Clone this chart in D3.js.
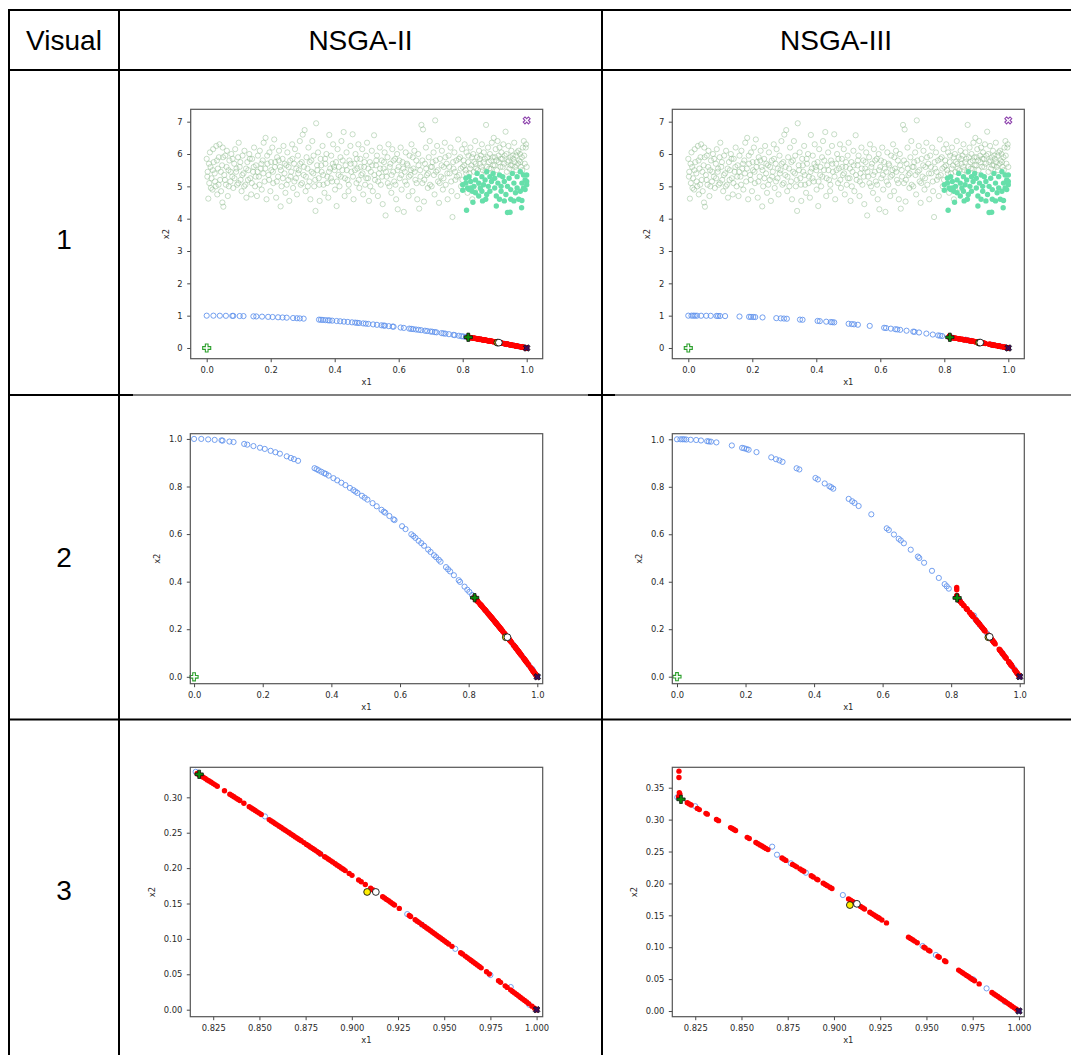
<!DOCTYPE html>
<html><head><meta charset="utf-8">
<script src="https://cdn.jsdelivr.net/npm/d3@7"></script>
<style>body{margin:0;background:#fff}</style>
</head><body>
<svg id="c" width="1071" height="1055"></svg>
<script>
const headers = ["Visual", "NSGA-II", "NSGA-III"];
const rowLabels = ["1", "2", "3"];

// population cloud (shared)
const cloud = [[0.000,5.85],[0.003,5.45],[0.005,4.62],[0.008,5.1],[0.010,6.05],[0.012,5.6],[0.015,5.25],[0.018,4.9],[0.020,6.15],[0.022,5.75],[0.025,5.4],[0.028,5.0],[0.030,6.25],[0.033,4.75],[0.035,5.55],[0.038,5.9],[0.040,6.3],[0.042,5.2],[0.045,4.85],[0.048,5.65],[0.050,6.2],[0.052,4.37],[0.049,4.5],
[0.055,5.35],[0.058,5.95],[0.060,5.05],[0.063,6.1],[0.066,4.7],[0.068,5.5],[0.071,5.8],[0.074,5.15],[0.077,6.0],[0.080,5.3],[0.083,4.95],[0.086,5.7],[0.089,6.15],[0.092,5.45],[0.095,5.05],[0.098,5.9],[0.100,6.35],
[0.103,5.6],[0.106,5.2],[0.109,4.85],[0.112,5.95],[0.115,5.4],[0.118,6.1],[0.121,5.05],[0.124,4.65],[0.127,5.75],[0.130,5.5],[0.133,6.0],[0.136,5.25],[0.139,4.75],[0.142,5.85],[0.145,5.45],[0.148,6.2],
[0.151,5.0],[0.154,5.65],[0.157,4.7],[0.160,5.95],[0.163,5.3],[0.166,6.1],[0.169,5.55],[0.172,4.9],[0.175,5.8],[0.178,6.35],[0.181,5.15],[0.184,6.5],[0.187,4.6],[0.190,5.7],[0.193,5.35],[0.196,6.05],[0.199,4.85],
[0.202,5.5],[0.205,6.2],[0.208,5.1],[0.211,6.45],[0.214,5.75],[0.217,4.65],[0.220,5.9],[0.223,5.3],[0.226,6.1],[0.229,5.6],[0.231,4.38],[0.234,5.0],[0.237,5.85],[0.240,6.25],[0.243,5.4],[0.246,4.8],[0.249,5.65],
[0.252,6.05],[0.255,5.2],[0.258,4.55],[0.261,5.8],[0.264,5.45],[0.267,6.3],[0.270,4.95],[0.273,5.7],[0.276,6.15],[0.279,5.25],[0.282,4.75],[0.285,5.95],[0.288,5.5],[0.291,6.4],[0.294,5.05],[0.297,5.75],[0.300,6.6],
[0.303,5.35],[0.306,6.74],[0.309,4.85],[0.312,5.9],[0.315,5.55],[0.318,6.2],[0.321,5.15],[0.324,4.6],[0.327,5.8],[0.330,6.4],[0.333,5.4],[0.336,5.0],[0.340,4.24],[0.342,6.95],[0.345,5.65],[0.348,6.05],[0.350,5.25],
[0.353,4.55],[0.356,5.85],[0.359,5.45],[0.362,6.25],[0.365,5.05],[0.368,4.8],[0.371,5.7],[0.374,6.0],[0.377,5.3],[0.380,4.65],[0.383,6.59],[0.386,5.55],[0.389,5.95],[0.392,5.15],[0.395,6.3],[0.398,5.6],
[0.401,4.9],[0.404,5.75],[0.406,4.39],[0.409,6.15],[0.412,5.35],[0.415,5.0],[0.418,5.9],[0.421,6.4],[0.424,5.5],[0.428,6.68],[0.431,4.7],[0.434,5.65],[0.437,6.05],[0.440,5.2],[0.443,4.85],[0.446,5.8],[0.449,6.25],
[0.452,5.45],[0.456,6.61],[0.459,4.6],[0.462,5.7],[0.465,6.0],[0.468,5.1],[0.471,5.55],[0.474,6.3],[0.477,4.95],[0.480,5.85],[0.483,5.35],[0.486,6.15],[0.489,4.75],[0.492,5.6],[0.495,5.05],[0.498,5.95],
[0.501,6.35],[0.504,5.25],[0.507,4.55],[0.510,5.75],[0.513,5.45],[0.516,6.1],[0.519,4.85],[0.523,6.58],[0.526,5.2],[0.529,5.65],[0.532,5.95],[0.535,4.7],[0.538,5.4],[0.541,6.2],[0.544,5.05],[0.547,5.8],[0.550,4.45],
[0.553,5.55],[0.556,6.05],[0.559,4.10],[0.562,5.3],[0.565,5.9],[0.568,6.3],[0.571,5.0],[0.574,5.7],[0.577,4.8],[0.580,6.15],[0.583,5.45],[0.586,5.15],[0.589,5.85],[0.592,4.6],[0.595,6.0],[0.597,4.29],[0.600,5.6],
[0.603,5.25],[0.606,6.2],[0.609,4.9],[0.612,5.75],[0.616,4.21],[0.619,5.45],[0.622,6.05],[0.625,5.05],[0.628,5.65],[0.631,4.7],[0.634,5.95],[0.637,5.35],[0.640,6.3],[0.643,4.85],[0.646,5.55],[0.649,6.1],
[0.652,5.2],[0.655,5.8],[0.658,4.6],[0.661,6.0],[0.664,4.31],[0.667,5.5],[0.671,6.9],[0.674,5.1],[0.676,6.76],[0.679,4.53],[0.682,5.7],[0.685,6.2],[0.688,5.35],[0.691,4.95],[0.694,5.9],[0.697,6.4],[0.700,5.6],
[0.703,5.0],[0.706,5.75],[0.709,6.05],[0.712,4.75],[0.714,7.04],[0.717,5.45],[0.720,6.25],[0.723,5.15],[0.726,4.49],[0.729,5.85],[0.732,5.3],[0.735,6.1],[0.738,4.9],[0.741,5.6],[0.744,6.35],[0.747,5.05],[0.750,5.7],
[0.753,4.6],[0.756,5.95],[0.759,5.4],[0.762,6.2],[0.765,4.85],[0.768,4.05],[0.771,5.55],[0.774,6.05],[0.777,5.2],[0.780,5.8],[0.783,4.7],[0.786,6.45],[0.789,5.35],[0.792,5.9],[0.795,5.0],[0.798,6.15],[0.800,5.6],
[0.803,5.8],[0.806,6.3],[0.809,5.5],[0.812,6.05],[0.815,4.8],[0.818,5.95],[0.821,5.4],[0.824,6.2],[0.827,5.65],[0.830,4.6],[0.833,6.0],[0.836,5.75],[0.839,6.4],[0.842,5.55],[0.845,5.9],[0.848,4.95],
[0.851,6.1],[0.854,5.7],[0.857,5.95],[0.860,6.3],[0.863,5.5],[0.866,6.05],[0.869,5.85],[0.873,6.9],[0.876,5.6],[0.879,6.2],[0.882,5.75],[0.885,6.0],[0.888,5.55],[0.891,6.35],[0.894,5.9],[0.897,6.5],[0.900,5.65],
[0.903,6.15],[0.906,5.8],[0.909,6.4],[0.912,5.95],[0.915,6.2],[0.918,5.6],[0.921,6.05],[0.924,5.85],[0.927,6.3],[0.930,5.7],[0.934,6.69],[0.937,6.0],[0.940,5.75],[0.943,6.25],[0.946,5.55],[0.949,5.9],
[0.952,6.1],[0.955,5.65],[0.958,5.85],[0.961,6.35],[0.964,5.6],[0.967,5.95],[0.970,6.05],[0.973,5.7],[0.976,5.8],[0.979,6.0],[0.982,5.6],[0.985,5.9],[0.988,6.2],[0.991,6.4],[0.994,5.7],[0.997,6.2],[1.000,5.6],
[0.002,5.3],[0.007,5.7],[0.013,4.95],[0.019,5.5],[0.026,5.15],[0.032,5.8],[0.037,5.05],[0.044,5.45],[0.051,5.9],[0.057,5.2],[0.062,5.6],[0.069,5.0],[0.075,5.45],[0.081,5.85],[0.087,5.25],[0.093,5.55],[0.099,5.1],[0.105,5.75],[0.111,5.35],[0.117,5.0],[0.123,5.55],[0.129,5.2],[0.135,5.85],[0.141,5.1],[0.147,5.6],[0.153,5.3],[0.159,5.45],[0.165,5.05],[0.171,5.7],[0.177,5.4],[0.183,5.55],[0.189,5.95],[0.195,5.2],[0.201,5.75],[0.207,5.45],[0.213,5.6],[0.219,5.15],[0.225,5.8],[0.232,5.5],[0.238,5.25],[0.244,5.7],[0.250,5.05],[0.256,5.6],[0.262,5.3],[0.268,5.85],[0.274,5.15],[0.280,5.55],[0.286,5.4],[0.292,5.7],[0.298,5.1],[0.304,5.6],[0.310,5.3],[0.316,5.0],[0.322,5.75],[0.328,5.45],[0.334,5.95],[0.339,5.2],[0.346,5.5],[0.352,5.05],[0.358,5.65],[0.364,5.35],[0.370,5.85],[0.376,5.1],[0.382,5.45],[0.388,5.25],[0.394,5.7],[0.400,5.5],[0.407,5.15],[0.413,5.6],[0.419,5.3],[0.425,5.8],[0.432,5.25],[0.438,5.5],[0.444,5.05],[0.450,5.7],[0.457,5.3],[0.463,5.5],[0.469,5.85],[0.475,5.2],[0.481,5.6],[0.487,5.4],[0.493,5.75],[0.499,5.25],[0.505,5.55],[0.511,5.0],[0.517,5.65],[0.524,5.35],[0.530,5.8],[0.536,5.15],[0.542,5.55],[0.548,5.3],[0.554,5.75],[0.560,5.45],[0.566,5.1],[0.572,5.6],[0.578,5.35],[0.584,5.8],[0.590,5.05],[0.596,5.5],[0.602,5.8],[0.608,5.35],[0.614,5.55],[0.620,5.15],[0.626,5.7],[0.632,5.3],[0.638,5.5],[0.644,5.9],[0.650,5.45],[0.656,5.1],[0.662,5.65],[0.668,5.3],[0.674,5.8],[0.680,5.2],[0.686,5.55],[0.692,5.4],[0.698,5.05],[0.704,5.6],[0.710,5.35],[0.716,5.8],[0.722,5.5],[0.728,5.1],[0.734,5.65],[0.740,5.25],[0.746,5.9],[0.752,5.4],[0.758,5.6],[0.764,5.15],[0.770,5.75],[0.776,5.45],[0.782,5.3],[0.788,5.85],[0.794,5.55],[0.799,5.2],[0.805,5.65],[0.811,5.4],[0.817,5.75],[0.823,5.55],[0.829,5.9],[0.835,5.45],[0.841,5.7],[0.847,5.5],[0.853,5.85],[0.859,5.6],[0.865,5.75],[0.871,5.45],[0.877,5.9],[0.883,5.55],[0.889,5.8],[0.895,5.65],[0.901,5.9],[0.907,5.5],[0.913,5.75],[0.919,5.85],[0.925,5.6],[0.931,5.95],[0.938,5.45],[0.944,5.8],[0.950,5.65],[0.956,5.95],[0.962,5.75],[0.968,5.5],[0.974,6.1],[0.980,5.75],[0.986,5.5],[0.992,5.95],[0.998,6.3]];

// selected region of population (shared)
const aqua = [[0.80,5.05],[0.80,4.88],[0.81,5.25],[0.81,5.1],[0.812,4.26],[0.815,4.95],[0.82,5.3],[0.82,4.9],[0.825,5.15],[0.83,4.85],[0.832,4.51],[0.835,5.0],[0.84,5.2],[0.84,4.8],[0.845,5.4],[0.85,5.1],[0.85,4.7],[0.855,4.95],[0.86,5.3],[0.862,4.55],[0.865,5.05],[0.87,5.2],[0.872,4.6],[0.875,5.45],[0.88,5.0],[0.885,5.3],[0.885,4.85],[0.89,5.15],[0.895,5.4],[0.9,4.95],[0.9,5.25],[0.905,4.39],[0.905,4.7],[0.91,5.1],[0.915,5.35],[0.915,4.6],[0.92,4.85],[0.92,5.0],[0.925,5.3],[0.93,4.55],[0.93,5.15],[0.935,4.75],[0.94,4.19],[0.94,5.0],[0.945,5.25],[0.948,4.2],[0.95,4.6],[0.95,4.9],[0.955,5.4],[0.96,4.55],[0.96,5.1],[0.965,4.8],[0.97,5.3],[0.97,4.95],[0.975,4.6],[0.98,5.45],[0.98,4.85],[0.984,4.34],[0.985,5.1],[0.985,4.56],[0.99,4.95],[0.99,5.35],[0.995,5.2],[0.995,4.9],[1.0,5.35],[1.0,5.05],[1.0,5.15],[0.825,4.95],[0.86,4.85],[0.875,4.75]];

// Pareto front points, NSGA-II
const frontII = [[0.0,1.0],[0.021,1.0],[0.041,0.998],[0.060,0.996],[0.080,0.994],[0.083,0.993],[0.103,0.989],[0.115,0.987],[0.146,0.979],[0.155,0.976],[0.173,0.970],[0.192,0.963],[0.206,0.958],[0.223,0.950],[0.237,0.944],[0.250,0.938],[0.270,0.927],[0.282,0.920],[0.291,0.915],[0.303,0.908],[0.351,0.877],[0.357,0.873],[0.363,0.868],[0.371,0.862],[0.379,0.856],[0.384,0.853],[0.392,0.846],[0.406,0.835],[0.417,0.826],[0.429,0.816],[0.441,0.806],[0.454,0.794],[0.464,0.785],[0.470,0.779],[0.476,0.773],[0.489,0.761],[0.497,0.753],[0.505,0.745],[0.520,0.730],[0.532,0.717],[0.546,0.702],[0.553,0.694],[0.557,0.690],[0.569,0.676],[0.581,0.662],[0.584,0.659],[0.606,0.633],[0.616,0.621],[0.633,0.599],[0.639,0.592],[0.645,0.584],[0.654,0.572],[0.662,0.562],[0.670,0.551],[0.682,0.535],[0.689,0.525],[0.699,0.511],[0.705,0.503],[0.713,0.492],[0.718,0.484],[0.734,0.461],[0.740,0.452],[0.746,0.443],[0.757,0.427],[0.771,0.406],[0.775,0.399],[0.788,0.379],[0.796,0.366],[0.802,0.357],[0.810,0.344],[0.8155,0.336],[0.853,0.273],[0.883,0.220],[0.930,0.135],[0.938,0.120],[0.956,0.086],[0.975,0.049],[0.986,0.032],[0.996,0.007],[1.0,0.0]];

// preferred-region solutions, NSGA-II
const redII = [[0.8163,0.3337],[0.8171,0.3324],[0.8178,0.3312],[0.8187,0.3297],[0.8196,0.3283],[0.8207,0.3265],[0.8218,0.3246],[0.8228,0.3230],[0.8239,0.3212],[0.8250,0.3194],[0.8261,0.3176],[0.8272,0.3157],[0.8311,0.3093],[0.8340,0.3044],[0.8351,0.3026],[0.8362,0.3008],[0.8373,0.2989],[0.8383,0.2973],[0.8394,0.2954],[0.8416,0.2917],[0.8445,0.2868],[0.8456,0.2850],[0.8466,0.2833],[0.8477,0.2814],[0.8488,0.2795],[0.8499,0.2777],[0.8510,0.2758],[0.8553,0.2685],[0.8564,0.2666],[0.8575,0.2647],[0.8586,0.2628],[0.8596,0.2611],[0.8607,0.2592],[0.8618,0.2573],[0.8629,0.2554],[0.8640,0.2535],[0.8651,0.2516],[0.8661,0.2499],[0.8672,0.2480],[0.8683,0.2461],[0.8694,0.2441],[0.8705,0.2422],[0.8715,0.2405],[0.8726,0.2386],[0.8741,0.2360],[0.8755,0.2335],[0.8766,0.2316],[0.8777,0.2296],[0.8788,0.2277],[0.8798,0.2260],[0.8809,0.2240],[0.8820,0.2221],[0.8831,0.2201],[0.8853,0.2162],[0.8863,0.2145],[0.8874,0.2125],[0.8885,0.2106],[0.8896,0.2086],[0.8910,0.2061],[0.8921,0.2042],[0.8932,0.2022],[0.8943,0.2002],[0.8954,0.1983],[0.8964,0.1965],[0.8986,0.1925],[0.9001,0.1898],[0.9037,0.1833],[0.9051,0.1808],[0.9073,0.1768],[0.9102,0.1715],[0.9116,0.1690],[0.9167,0.1597],[0.9177,0.1578],[0.9188,0.1558],[0.9199,0.1538],[0.9210,0.1518],[0.9221,0.1497],[0.9231,0.1479],[0.9257,0.1431],[0.9311,0.1331],[0.9318,0.1317],[0.9343,0.1271],[0.9354,0.1250],[0.9365,0.1230],[0.9379,0.1203],[0.9394,0.1175],[0.9405,0.1155],[0.9415,0.1136],[0.9426,0.1115],[0.9437,0.1094],[0.9448,0.1074],[0.9459,0.1053],[0.9470,0.1032],[0.9480,0.1013],[0.9491,0.0992],[0.9502,0.0971],[0.9513,0.0950],[0.9524,0.0929],[0.9542,0.0895],[0.9589,0.0805],[0.9599,0.0786],[0.9614,0.0757],[0.9625,0.0736],[0.9636,0.0715],[0.9646,0.0695],[0.9657,0.0674],[0.9668,0.0653],[0.9679,0.0632],[0.9690,0.0610],[0.9700,0.0591],[0.9729,0.0535],[0.9744,0.0505],[0.9794,0.0408],[0.9805,0.0386],[0.9830,0.0337],[0.9841,0.0315],[0.9859,0.0280],[0.9870,0.0258],[0.9881,0.0237],[0.9892,0.0215],[0.9903,0.0193],[0.9913,0.0173],[0.9924,0.0151],[0.9935,0.0130],[0.9946,0.0108],[0.9957,0.0086],[0.9975,0.0050],[0.9989,0.0022],[1.0,0.0]];

// Pareto front points, NSGA-III
const frontIII = [[0.000,1.000],[0.010,1.000],[0.016,1.000],[0.021,1.000],[0.027,0.999],[0.040,0.998],[0.056,0.997],[0.070,0.995],[0.088,0.992],[0.093,0.991],[0.099,0.990],[0.115,0.987],[0.160,0.974],[0.190,0.964],[0.196,0.962],[0.203,0.959],[0.209,0.956],[0.232,0.946],[0.275,0.924],[0.289,0.916],[0.299,0.911],[0.308,0.905],[0.349,0.878],[0.357,0.873],[0.404,0.837],[0.411,0.831],[0.431,0.814],[0.445,0.802],[0.450,0.798],[0.456,0.792],[0.501,0.749],[0.511,0.739],[0.518,0.732],[0.530,0.719],[0.567,0.684],[0.612,0.625],[0.618,0.618],[0.633,0.599],[0.647,0.581],[0.653,0.574],[0.662,0.562],[0.682,0.535],[0.703,0.506],[0.707,0.500],[0.721,0.480],[0.744,0.446],[0.764,0.416],[0.781,0.390],[0.787,0.381],[0.793,0.371],[0.8153,0.335],[0.825,0.321],[0.8666,0.2576],[0.8692,0.245],[0.8767,0.2315],[0.8848,0.2168],[0.9048,0.1818],[0.9479,0.1019],[0.9551,0.0878],[0.9753,0.0496],[0.9825,0.0355],[0.9924,0.0146],[1.0,0.0]];

// preferred-region solutions, NSGA-III
const redIII = [[0.8162,0.376],[0.8162,0.366],[0.8164,0.342],[0.8167,0.340],[0.8160,0.336],[0.8207,0.3265],[0.8218,0.3246],[0.8228,0.3230],[0.8261,0.3176],[0.8272,0.3157],[0.8308,0.3098],[0.8315,0.3086],[0.8365,0.3003],[0.8376,0.2984],[0.8441,0.2875],[0.8450,0.2860],[0.8459,0.2845],[0.8468,0.2829],[0.8531,0.2722],[0.8542,0.2703],[0.8578,0.2642],[0.8589,0.2623],[0.8600,0.2604],[0.8610,0.2587],[0.8621,0.2568],[0.8632,0.2549],[0.8643,0.2530],[0.8719,0.2398],[0.8729,0.2380],[0.8740,0.2361],[0.8776,0.2298],[0.8787,0.2279],[0.8798,0.2260],[0.8816,0.2228],[0.8827,0.2208],[0.8837,0.2191],[0.8877,0.2120],[0.8888,0.2100],[0.8906,0.2068],[0.8913,0.2056],[0.8942,0.2004],[0.8953,0.1984],[0.8964,0.1965],[0.8978,0.1940],[0.8989,0.1920],[0.9079,0.1757],[0.9090,0.1737],[0.9101,0.1717],[0.9111,0.1699],[0.9122,0.1679],[0.9144,0.1639],[0.9155,0.1619],[0.9165,0.1600],[0.9194,0.1547],[0.9205,0.1527],[0.9216,0.1507],[0.9227,0.1486],[0.9238,0.1466],[0.9245,0.1453],[0.9259,0.1427],[0.9284,0.1381],[0.9403,0.1158],[0.9414,0.1138],[0.9425,0.1117],[0.9436,0.1096],[0.9450,0.1070],[0.9486,0.1002],[0.9493,0.0988],[0.9511,0.0954],[0.9519,0.0939],[0.9562,0.0857],[0.9569,0.0843],[0.9598,0.0788],[0.9605,0.0774],[0.9674,0.0641],[0.9684,0.0622],[0.9695,0.0601],[0.9706,0.0579],[0.9717,0.0558],[0.9728,0.0537],[0.9739,0.0515],[0.9749,0.0496],[0.9760,0.0474],[0.9785,0.0425],[0.9854,0.0290],[0.9865,0.0268],[0.9875,0.0248],[0.9886,0.0227],[0.9897,0.0205],[0.9908,0.0183],[0.9919,0.0161],[0.9930,0.0140],[0.9940,0.0120],[0.9951,0.0098],[0.9962,0.0076],[0.9973,0.0054],[0.9984,0.0032],[0.9994,0.0012]];

// special points
const idealPt = [0.0, 0.0];
const nadirPt = [1.0, 7.04];
const extremePt = [1.0, 0.0];
const kneePtII = [0.8174, 0.3325];
const kneePtIII = [0.8173, 0.3318];
const yellowPtII = [0.9083, 0.1663];
const yellowPtIII = [0.9086, 0.1661];
const whitePtII = [0.9130, 0.1663];
const whitePtIII = [0.9124, 0.1680];

// ticks
const xTicksWide = [0, 0.2, 0.4, 0.6, 0.8, 1.0];
const yTicksRow1 = [0, 1, 2, 3, 4, 5, 6, 7];
const yTicksRow2 = [0, 0.2, 0.4, 0.6, 0.8, 1.0];
const xTicksRow3 = [0.825, 0.85, 0.875, 0.9, 0.925, 0.95, 0.975, 1.0];
const yTicksRow3II = [0, 0.05, 0.10, 0.15, 0.20, 0.25, 0.30];
const yTicksRow3III = [0, 0.05, 0.10, 0.15, 0.20, 0.25, 0.30, 0.35];

const svg = d3.select("#c");
svg.append("rect").attr("width",1071).attr("height",1055).attr("fill","#fff");

const algos = {
  II: {front: frontII, red: redII, knee: kneePtII, yellow: yellowPtII, white: whitePtII},
  III:{front: frontIII, red: redIII, knee: kneePtIII, yellow: yellowPtIII, white: whitePtIII}
};

const panels = [
  {a:"II", box:[190.7,109.3,542.7,358.7], xd:[-0.05,1.05], yd:[-0.331,7.383], xt:xTicksWide, yt:yTicksRow1, xf:d3.format(".1f"), yf:d3.format("d"), yl:22},
  {a:"III", box:[672.3,109.3,1024.3,358.7], xd:[-0.05,1.05], yd:[-0.331,7.383], xt:xTicksWide, yt:yTicksRow1, xf:d3.format(".1f"), yf:d3.format("d"), yl:22},
  {a:"II", box:[190.3,433.7,542.7,683.7], xd:[-0.011,1.0157], yd:[-0.029,1.022], xt:xTicksWide, yt:yTicksRow2, xf:d3.format(".1f"), yf:d3.format(".1f"), yl:30},
  {a:"III", box:[672.3,433.7,1024.3,683.7], xd:[-0.0137,1.0134], yd:[-0.0295,1.0236], xt:xTicksWide, yt:yTicksRow2, xf:d3.format(".1f"), yf:d3.format(".1f"), yl:30},
  {a:"II", box:[190.3,767.3,542.7,1016.7], xd:[0.8126,1.0033], yd:[-0.0099,0.3424], xt:xTicksRow3, yt:yTicksRow3II, xf:d3.format(".3f"), yf:d3.format(".2f"), yl:35},
  {a:"III", box:[672.3,767.3,1024.3,1016.7], xd:[0.8126,1.0029], yd:[-0.0089,0.382], xt:xTicksRow3, yt:yTicksRow3III, xf:d3.format(".3f"), yf:d3.format(".2f"), yl:35}
];

const defs = svg.append("defs");
const tickFont = "DejaVu Sans, sans-serif";

panels.forEach((p, i) => {
  const [l,t,r,b] = p.box;
  const A = algos[p.a];
  const x = d3.scaleLinear().domain(p.xd).range([l,r]);
  const y = d3.scaleLinear().domain(p.yd).range([b,t]);
  defs.append("clipPath").attr("id","clip"+i).append("rect")
    .attr("x",l).attr("y",t).attr("width",r-l).attr("height",b-t);
  const g = svg.append("g");
  const pg = g.append("g").attr("clip-path",`url(#clip${i})`);

  pg.selectAll(null).data(cloud).join("circle")
    .attr("cx",d=>x(d[0])).attr("cy",d=>y(d[1])).attr("r",2.6)
    .attr("fill","none").attr("stroke","#8fbc8f").attr("stroke-opacity",0.55).attr("stroke-width",0.9);
  pg.selectAll(null).data(aqua).join("circle")
    .attr("cx",d=>x(d[0])).attr("cy",d=>y(d[1])).attr("r",2.7)
    .attr("fill","#66dfaa");
  pg.selectAll(null).data(A.front).join("circle")
    .attr("cx",d=>x(d[0])).attr("cy",d=>y(d[1])).attr("r",2.6)
    .attr("fill","none").attr("stroke","#6495ed").attr("stroke-width",0.9);
  pg.selectAll(null).data(A.red).join("circle")
    .attr("cx",d=>x(d[0])).attr("cy",d=>y(d[1])).attr("r",2.7)
    .attr("fill","#ff0000");

  const inDom = d => d[0]>=p.xd[0] && d[0]<=p.xd[1] && d[1]>=p.yd[0] && d[1]<=p.yd[1];
  const mg = g.append("g");
  const sym = (pt, fill, stroke, rot, sw, sz) => {
    if (!inDom(pt)) return;
    mg.append("path").attr("d",d3.symbol().type(d3.symbolCross).size(sz)())
      .attr("transform",`translate(${x(pt[0])},${y(pt[1])}) rotate(${rot})`)
      .attr("fill",fill).attr("stroke",stroke).attr("stroke-width",sw);
  };
  const circ = (pt, fill) => {
    if (!inDom(pt)) return;
    mg.append("circle").attr("cx",x(pt[0])).attr("cy",y(pt[1])).attr("r",3.4)
      .attr("fill",fill).attr("stroke","#111").attr("stroke-width",0.9);
  };
  sym(A.knee, "#0a8a0a", "#111", 0, 0.8, 38);
  circ(A.yellow, "#ffee00");
  circ(A.white, "#ffffff");
  sym(extremePt, "#3c0a5c", "#111", 45, 0.7, 28);
  sym(idealPt, "#ffffff", "#2ca02c", 0, 1.1, 36);
  sym(nadirPt, "#ffffff", "#8e44ad", 45, 1.1, 30);

  // axes
  const xa = g.append("g").attr("transform",`translate(0,${b})`)
    .call(d3.axisBottom(x).tickValues(p.xt).tickFormat(p.xf).tickSizeInner(3.5).tickSizeOuter(0).tickPadding(5));
  const ya = g.append("g").attr("transform",`translate(${l},0)`)
    .call(d3.axisLeft(y).tickValues(p.yt).tickFormat(p.yf).tickSizeInner(3.5).tickSizeOuter(0).tickPadding(4.5));
  [xa,ya].forEach(ax => {
    ax.select(".domain").remove();
    ax.selectAll("line").attr("stroke","#333").attr("stroke-width",0.9);
    ax.selectAll("text").attr("font-family",tickFont).attr("font-size","8.4px").attr("fill","#2a2a2a");
  });
  g.append("rect").attr("x",l).attr("y",t).attr("width",r-l).attr("height",b-t)
    .attr("fill","none").attr("stroke","#555").attr("stroke-width",1.2);
  g.append("text").attr("x",(l+r)/2).attr("y",b+26).attr("text-anchor","middle")
    .attr("font-family",tickFont).attr("font-size","8.4px").attr("fill","#2a2a2a").text("x1");
  g.append("text").attr("transform",`translate(${l-p.yl},${(t+b)/2}) rotate(-90)`)
    .attr("text-anchor","middle").attr("font-family",tickFont).attr("font-size","8.4px").attr("fill","#2a2a2a").text("x2");
});

// table grid
const tg = svg.append("g").attr("stroke","#000").attr("fill","none");
const hl = (x1,x2,yy,w) => tg.append("line").attr("x1",x1).attr("x2",x2).attr("y1",yy).attr("y2",yy).attr("stroke-width",w);
const vl = (xx,y1,y2,w) => tg.append("line").attr("x1",xx).attr("x2",xx).attr("y1",y1).attr("y2",y2).attr("stroke-width",w);
hl(9,1071,10,2);
hl(9,1071,70,2);
hl(9,133,395,2); hl(133,588,395,1.2); hl(588,615,395,2); hl(615,1071,395,1.2);
hl(9,1071,719.5,2);
vl(9,9,1055,2);
vl(119,9,1055,2);
vl(602,9,1055,2);

const hf = "Liberation Sans, Arial, sans-serif";
const colCenters = [64, 360.5, 836];
headers.forEach((h,i) => {
  svg.append("text").attr("x",colCenters[i]).attr("y",50).attr("text-anchor","middle")
    .attr("font-family",hf).attr("font-size","28px").attr("fill","#000").text(h);
});
const rowCenters = [239, 557, 890];
rowLabels.forEach((r,i) => {
  svg.append("text").attr("x",64).attr("y",rowCenters[i]+10).attr("text-anchor","middle")
    .attr("font-family",hf).attr("font-size","28px").attr("fill","#000").text(r);
});
</script>
</body></html>
